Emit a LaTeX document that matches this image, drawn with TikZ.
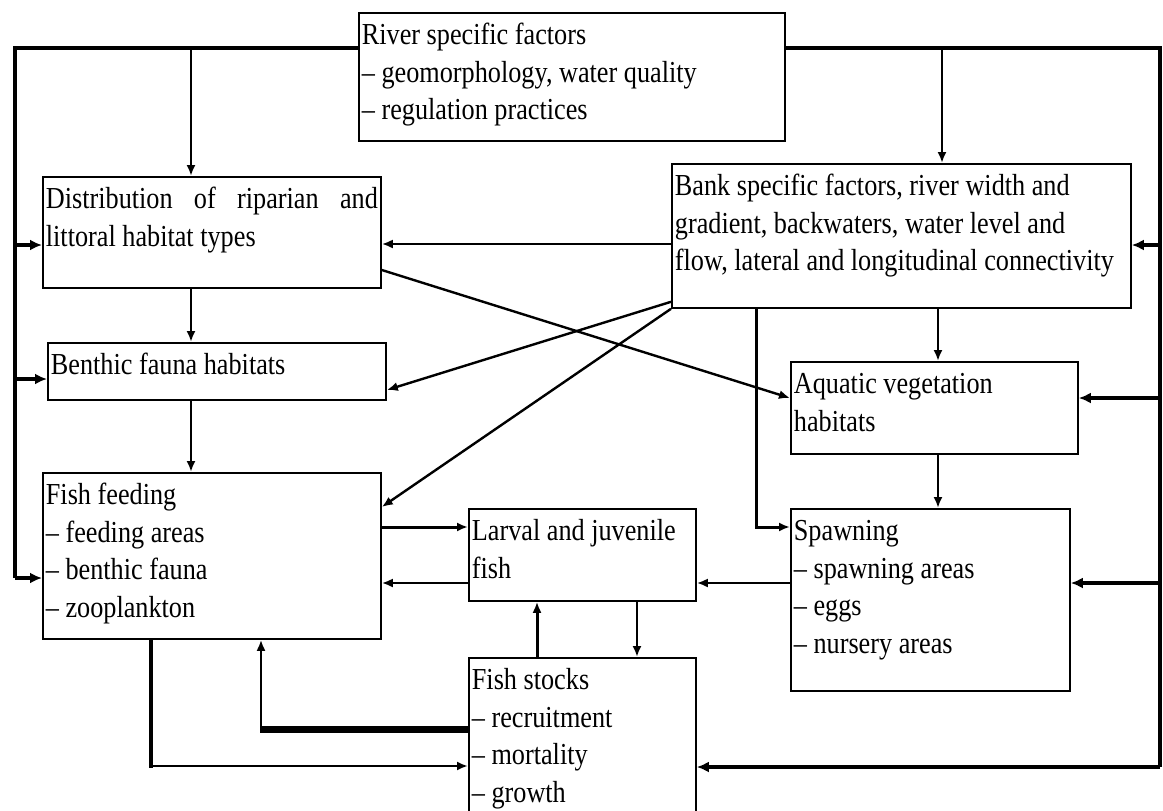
\documentclass[tikz,border=0pt]{standalone}
\usepackage{fontspec}
\setmainfont{Liberation Serif}[FakeStretch=0.86]
\usetikzlibrary{arrows.meta}

\newcommand{\boxtext}[3]{\parbox[t][#2][t]{#1}{\raggedright\rule{0pt}{32pt}#3}}

\tikzset{
    blk/.style={draw, line width=1.8pt, anchor=north west, inner xsep=3pt, inner ysep=0pt,
        font=\fontsize{30.5pt}{37.5pt}\selectfont},
    arr/.style={-{Latex[length=11pt,width=9pt]}, line width=2.4pt},
    bus/.style={line width=4pt},
    bustip/.style={-{Latex[length=12pt,width=11pt]}, line width=4pt},
}

\begin{document}
\begin{tikzpicture}[x=1pt,y=-1pt]
            \useasboundingbox (0,0) rectangle (1163,811);
            %boxes
            \node[blk] (riv) at (358,12) {\boxtext{420pt}{128pt}{River specific factors\\
                – geomorphology, water quality\\ – regulation practices}};
            \node[blk] (dist) at (42,176) {\boxtext{332pt}{111pt}{\makebox[\linewidth][s]{Distribution of riparian and}\\
                littoral habitat types}};
            \node[blk] (bank) at (671,163) {\boxtext{453pt}{144pt}{Bank specific factors, river width and\\
                gradient, backwaters, water level and\\ flow, lateral and longitudinal connectivity}};
            \node[blk] (benth) at (47,342) {\boxtext{332pt}{57pt}{Benthic fauna habitats}};
            \node[blk] (aqua) at (790,361) {\boxtext{281pt}{92pt}{Aquatic vegetation\\ habitats}};
            \node[blk] (feed) at (42,472) {\boxtext{332pt}{166pt}{Fish feeding\\ – feeding areas\\
                – benthic fauna\\ – zooplankton}};
            \node[blk] (larv) at (468,508) {\boxtext{221pt}{92pt}{Larval and juvenile\\ fish}};
            \node[blk] (spawn) at (790,508) {\boxtext{273pt}{182pt}{Spawning\\ – spawning areas\\
                – eggs\\ – nursery areas}};
            \node[blk] (stock) at (468,657) {\boxtext{221pt}{170pt}{Fish stocks\\ – recruitment\\
                – mortality\\ – growth}};
            %
            %outer lines
            \coordinate (tl) at (14.5,48);
            \coordinate (bl) at (14.5,578);
            \coordinate (tr) at (1160,48);
            \coordinate (br) at (1160,767);
            \draw[bus] (riv.west |- tl) -- (tl) -- (bl);
            \draw[bus] (riv.east |- tr) -- (tr) -- (br);
            \foreach \n/\y in {dist/245, benth/379, feed/578} {
                \draw[bustip] (tl |- 0,\y) -- (\n.west |- 0,\y);
            }
            \foreach \n/\y in {bank/245, aqua/398, spawn/583, stock/767} {
                \draw[bustip] (tr |- 0,\y) -- (\n.east |- 0,\y);
            }
            \draw[arr] (tl -| 191,0) -- (dist.north -| 191,0);
            \draw[arr] (tr -| 942,0) -- (bank.north -| 942,0);
            %
            %left column
            \draw[arr] (dist.south -| 191,0) -- (benth.north -| 191,0);
            \draw[arr] (benth.south -| 191,0) -- (feed.north -| 191,0);
            %
            %from the bank box
            \draw[arr] (bank.west |- 0,244) -- (dist.east |- 0,244);
            \draw[arr] ([yshift=7pt]bank.south west) -- (benth.east |- 0,390);
            \draw[arr] (bank.south west) -- (feed.east |- 0,507);
            \draw[arr] (dist.east |- 0,270) -- (aqua.west |- 0,398);
            \draw[arr] (bank.south -| 938,0) -- (aqua.north -| 938,0);
            \draw[arr] (aqua.south -| 938,0) -- (spawn.north -| 938,0);
            \draw[arr, line width=3pt] (bank.south -| 756,0) |- (spawn.west |- 0,527);
            %
            %fish boxes
            \draw[arr, line width=3pt] (feed.east |- 0,527) -- (larv.west |- 0,527);
            \draw[arr] (larv.west |- 0,583) -- (feed.east |- 0,583);
            \draw[arr] (spawn.west |- 0,583) -- (larv.east |- 0,583);
            \draw[arr, line width=3pt] (stock.north -| 537,0) -- (larv.south -| 537,0);
            \draw[arr] (larv.south -| 637,0) -- (stock.north -| 637,0);
            \coordinate (c1) at (261,729);
            \coordinate (c2) at (151,766);
            \draw[line width=7pt] (stock.west |- c1) -- ([xshift=-1pt]c1);
            \draw[arr] ([yshift=-3pt]c1) -- (feed.south -| c1);
            \draw[line width=4pt, line cap=rect] (feed.south -| c2) -- (c2);
            \draw[arr, line width=2.5pt] (c2) -- (stock.west |- c2);
        \end{tikzpicture}
\end{document}
